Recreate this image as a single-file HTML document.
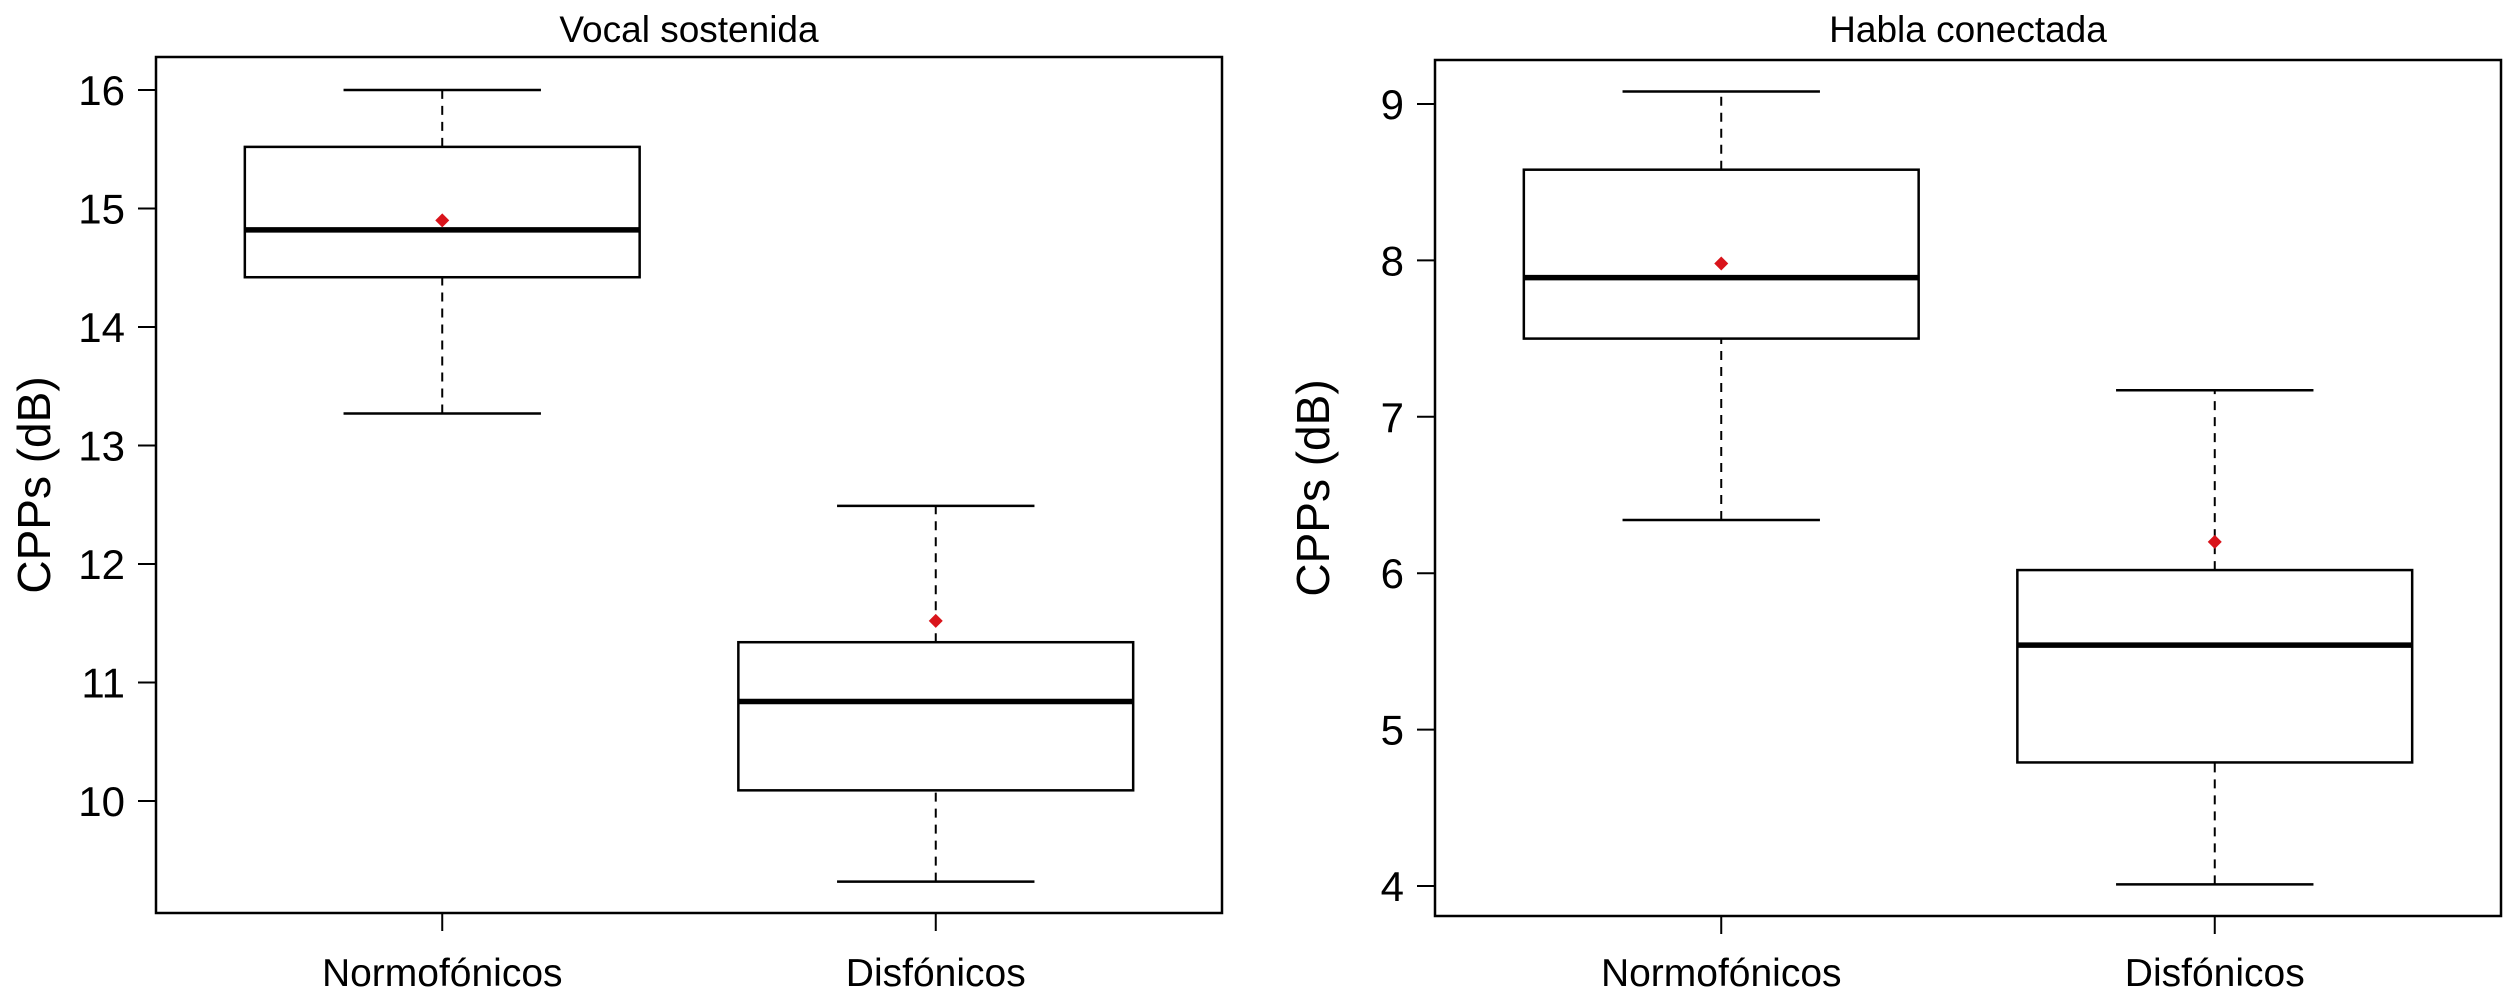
<!DOCTYPE html>
<html><head><meta charset="utf-8"><style>
html,body{margin:0;padding:0;background:#fff;}
svg{display:block;font-family:"Liberation Sans",Arial,sans-serif;}
</style></head><body>
<svg id="chart" width="2504" height="999" viewBox="0 0 2504 999"></svg>
<script>
const categories = ["Normofónicos", "Disfónicos"];
const panelTitles = ["Vocal sostenida", "Habla conectada"];
// [lowerWhisker, Q1, median, Q3, upperWhisker]
const vocalStats = [[13.27, 14.42, 14.82, 15.52, 16.0], [9.32, 10.09, 10.84, 11.34, 12.49]];
const vocalMeans = [14.9, 11.52];
const vocalTicks = [10, 11, 12, 13, 14, 15, 16];
const hablaStats = [[6.34, 7.5, 7.89, 8.58, 9.08], [4.01, 4.79, 5.54, 6.02, 7.17]];
const hablaMeans = [7.98, 6.2];
const hablaTicks = [4, 5, 6, 7, 8, 9];

const NS = "http://www.w3.org/2000/svg";
const svg = document.getElementById("chart");
function mk(tag, attrs, parent) {
  const e = document.createElementNS(NS, tag);
  for (const k in attrs) e.setAttribute(k, attrs[k]);
  (parent || svg).appendChild(e);
  return e;
}

function drawPanel(idx, frame, yMin, yMax, stats, means, ticks) {
  const g = mk("g", {});
  
  
  const {x0, x1, y0, y1} = frame;
  const y = v => y1 - (v - yMin) / (yMax - yMin) * (y1 - y0);
  const xs = i => x0 + ((i + 1) - 0.42) / 2.16 * (x1 - x0);
  const unit = (x1 - x0) / 2.16;

  const fr = mk("rect", {x: x0, y: y0, width: x1 - x0, height: y1 - y0, fill: "none", stroke: "#000", "stroke-width": 2.5}, g);
  
  

  const t = mk("text", {x: (x0 + x1) / 2, y: 42, "text-anchor": "middle", "font-size": 37}, g);
  t.textContent = panelTitles[idx];
  
  

  const yl = mk("text", {x: 0, y: 0, "text-anchor": "middle", "font-size": 46, transform: `translate(${x0 - 106},${(y0 + y1) / 2}) rotate(-90)`}, g);
  yl.textContent = "CPPs (dB)";
  
  

  ticks.forEach(v => {
    const tk = mk("line", {x1: x0 - 18, x2: x0, y1: y(v), y2: y(v), stroke: "#000", "stroke-width": 2}, g);
    
    
    const tl = mk("text", {x: x0 - 31, y: y(v) + 15, "text-anchor": "end", "font-size": 42}, g);
    tl.textContent = v;
    
    
  });

  categories.forEach((c, i) => {
    const cx = xs(i);
    const tk = mk("line", {x1: cx, x2: cx, y1: y1, y2: y1 + 18, stroke: "#000", "stroke-width": 2}, g);
    
    
    const tl = mk("text", {x: cx, y: 986, "text-anchor": "middle", "font-size": 39}, g);
    tl.textContent = c;
    
    

    const s = stats[i];
    const hw = 0.4 * unit, cw = 0.2 * unit;
    const bg = mk("g", {}, g);
    
    
    const w1 = mk("line", {x1: cx, x2: cx, y1: y(s[0]), y2: y(s[1]), stroke: "#000", "stroke-width": 2, "stroke-dasharray": "9,7"}, bg);
    
    
    const w2 = mk("line", {x1: cx, x2: cx, y1: y(s[3]), y2: y(s[4]), stroke: "#000", "stroke-width": 2, "stroke-dasharray": "9,7"}, bg);
    
    
    const c1 = mk("line", {x1: cx - cw, x2: cx + cw, y1: y(s[0]), y2: y(s[0]), stroke: "#000", "stroke-width": 2.5}, bg);
    
    
    const c2 = mk("line", {x1: cx - cw, x2: cx + cw, y1: y(s[4]), y2: y(s[4]), stroke: "#000", "stroke-width": 2.5}, bg);
    
    
    const r = mk("rect", {x: cx - hw, y: y(s[3]), width: 2 * hw, height: y(s[1]) - y(s[3]), fill: "none", stroke: "#000", "stroke-width": 2.5}, bg);
    
    
    const m = mk("line", {x1: cx - hw, x2: cx + hw, y1: y(s[2]), y2: y(s[2]), stroke: "#000", "stroke-width": 5.5}, bg);
    
    
    const my = y(means[i]);
    const d = mk("polygon", {points: `${cx},${my - 7} ${cx + 7},${my} ${cx},${my + 7} ${cx - 7},${my}`, fill: "#d9141b"}, bg);
    
    
  });
}

drawPanel(0, {x0: 156, x1: 1222, y0: 57, y1: 913}, 10 - (913 - 801) / 118.5, 16 + (90 - 57) / 118.5, vocalStats, vocalMeans, vocalTicks);
drawPanel(1, {x0: 1435, x1: 2501, y0: 60, y1: 916}, 4 - (916 - 886) / 156.4, 9 + (104 - 60) / 156.4, hablaStats, hablaMeans, hablaTicks);
</script>
</body></html>
